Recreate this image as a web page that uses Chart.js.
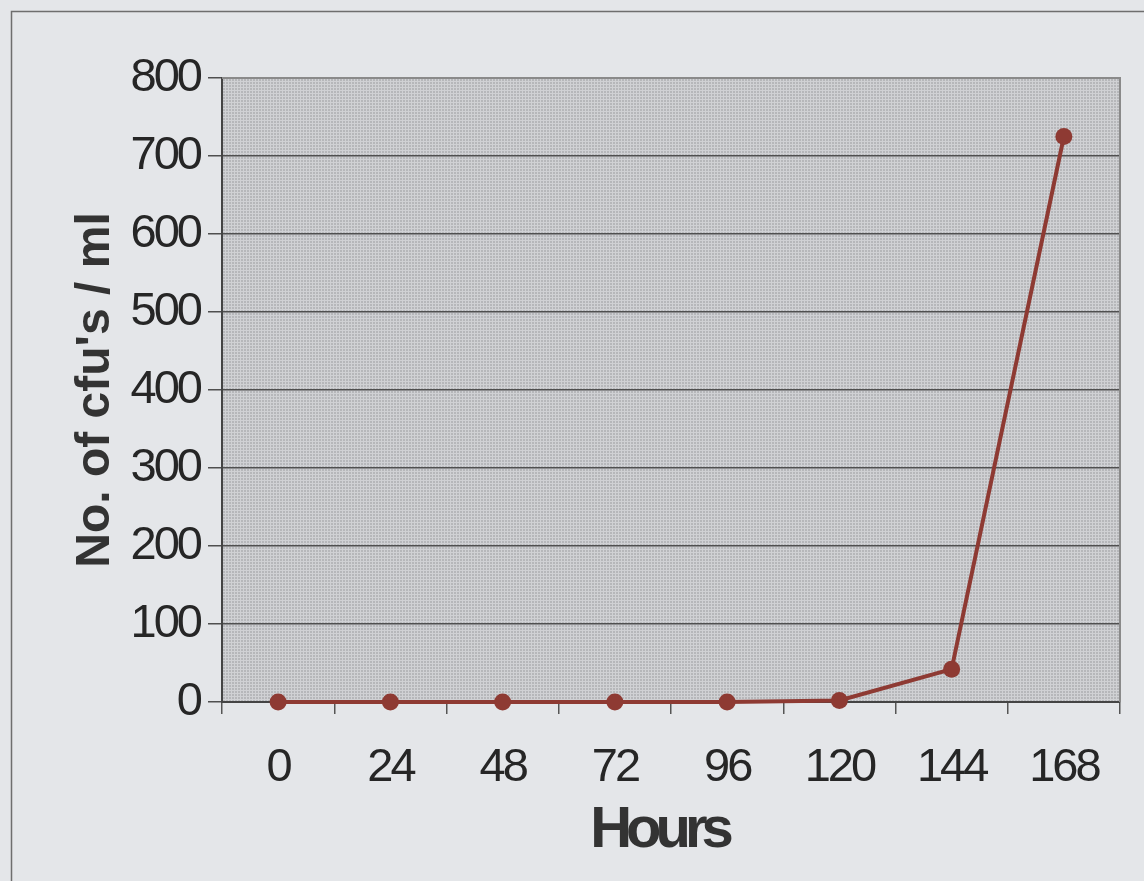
<!DOCTYPE html>
<html>
<head>
<meta charset="utf-8">
<title>cfu count over time</title>
<script src="https://cdn.jsdelivr.net/npm/chart.js@4/dist/chart.umd.min.js"></script>
<style>
  html, body { margin: 0; padding: 0; background: #e4e6e9; }
  #wrap { width: 1144px; height: 881px; position: relative; }
</style>
</head>
<body>
<div id="wrap"><canvas id="c" width="1144" height="881"></canvas></div>
<script>
// Sampling times (hours) and colony counts
const hours = ['0', '24', '48', '72', '96', '120', '144', '168'];
const cfuPerMl = [0, 0, 0, 0, 0, 2, 42, 725];
const yMin = 0;
const yMax = 800;
const yStep = 100;
const xTitle = 'Hours';
const yTitle = "No. of cfu's / ml";

const FONT = "'Liberation Sans', Arial, sans-serif";

// fine dotted fill for the plotting area
function plotPattern(ctx) {
  const t = document.createElement('canvas');
  t.width = 3; t.height = 3;
  const g = t.getContext('2d');
  g.fillStyle = '#b6b7ba';
  g.fillRect(0, 0, 3, 3);
  g.fillStyle = '#d0d1d4';
  g.fillRect(0, 0, 3, 1);
  g.fillRect(0, 0, 1, 3);
  return ctx.createPattern(t, 'repeat');
}

function spaceTitle(scale, px, dx) {
  if (!scale || scale._spacedTitle) return;
  const orig = scale.drawTitle;
  scale.drawTitle = function () {
    const c = this.ctx;
    c.save();
    c.letterSpacing = px;
    c.translate(dx, 0);
    orig.call(this);
    c.restore();
  };
  scale._spacedTitle = true;
}

const framePlugin = {
  id: 'frame',
  beforeUpdate(chart) {
    chart.ctx.letterSpacing = '-3px';
  },
  beforeDraw(chart) {
    const ctx = chart.ctx;
    const a = chart.chartArea;
    spaceTitle(chart.scales.x, '-6px', -12);
    spaceTitle(chart.scales.y, '0px', 0);
    ctx.save();
    ctx.fillStyle = '#e4e6e9';
    ctx.fillRect(0, 0, chart.width, chart.height);
    ctx.strokeStyle = '#6e6e6e';
    ctx.lineWidth = 1.5;
    ctx.strokeRect(11.5, 11.5, 1300, 1000);
    ctx.fillStyle = plotPattern(ctx);
    ctx.fillRect(a.left, a.top, a.right - a.left, a.bottom - a.top);
    ctx.restore();
    ctx.letterSpacing = '-3px';
  },
  beforeDatasetsDraw(chart) {
    const ctx = chart.ctx;
    const a = chart.chartArea;
    ctx.save();
    ctx.strokeStyle = '#8a8a8a';
    ctx.lineWidth = 2;
    ctx.beginPath();
    ctx.moveTo(a.left, a.top);
    ctx.lineTo(a.right, a.top);
    ctx.lineTo(a.right, a.bottom);
    ctx.stroke();
    ctx.restore();
  }
};

new Chart(document.getElementById('c'), {
  type: 'line',
  data: {
    labels: hours,
    datasets: [{
      data: cfuPerMl,
      borderColor: '#8e3a33',
      backgroundColor: '#8e3a33',
      borderWidth: 4,
      pointRadius: 8.5,
      pointHoverRadius: 8.5,
      pointBorderWidth: 0,
      tension: 0,
      clip: false
    }]
  },
  options: {
    responsive: false,
    animation: false,
    layout: { padding: { top: 78, right: 24, left: 0, bottom: 0 } },
    plugins: {
      legend: { display: false },
      tooltip: { enabled: false }
    },
    scales: {
      x: {
        offset: true,
        grid: {
          offset: true,
          drawOnChartArea: false,
          drawTicks: true,
          tickLength: 12,
          color: '#555',
          lineWidth: 1.5
        },
        border: { color: '#444', width: 2 },
        ticks: {
          color: '#262626',
          padding: 26,
          font: { family: FONT, size: 47 },
          maxRotation: 0
        },
        title: {
          display: true,
          text: xTitle,
          color: '#333',
          font: { family: FONT, size: 58, weight: 'bold' },
          padding: { top: 0, bottom: 15 }
        },
        afterFit(s) { s.height = 179; }
      },
      y: {
        min: yMin,
        max: yMax,
        grid: {
          color: '#4f4f4f',
          lineWidth: 1.5,
          tickLength: 14
        },
        border: { color: '#444', width: 2 },
        ticks: {
          stepSize: yStep,
          color: '#262626',
          padding: 8,
          font: { family: FONT, size: 47 }
        },
        title: {
          display: true,
          text: yTitle,
          color: '#333',
          font: { family: FONT, size: 48, weight: 'bold' },
          padding: { top: 67, bottom: 0 }
        },
        afterFit(s) { s.width = 222; }
      }
    }
  },
  plugins: [framePlugin]
});
</script>
</body>
</html>
